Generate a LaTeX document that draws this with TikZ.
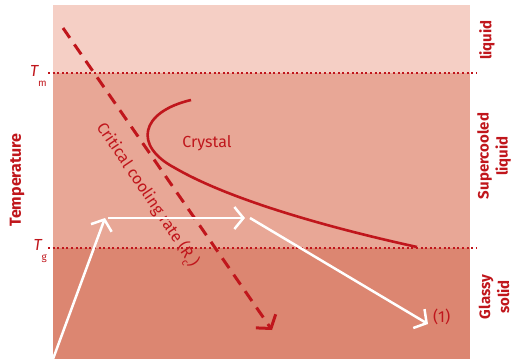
\documentclass[tikz,border=0pt]{standalone}
\usepackage{fontspec}
\setmainfont{Fira Sans}
\usetikzlibrary{arrows.meta}
\definecolor{dred}{RGB}{192,22,28}
\definecolor{bandA}{RGB}{245,207,197}
\definecolor{bandB}{RGB}{232,167,150}
\definecolor{bandC}{RGB}{220,134,113}
\tikzset{
  dotline/.style={dred, line width=2.2pt, dash pattern=on 2pt off 2.6pt},
  whitearrow/.style={white, line width=2.5pt, -{Straight Barb[length=9pt,width=22pt]}},
  critarrow/.style={dred, line width=3pt, dash pattern=on 12pt off 8pt, -{Straight Barb[length=9pt,width=24pt]}},
  phaselab/.style={dred, font=\bfseries\fontsize{15}{19}\selectfont, rotate=90, align=center, inner sep=0pt},
  plain/.style={dred, font=\fontsize{16}{18}\selectfont, inner sep=0pt},
  tlab/.style={dred, font=\fontsize{16}{18}\selectfont, inner sep=0pt, anchor=east}
}
\begin{document}
\begin{tikzpicture}[x=1pt,y=-1pt]
\useasboundingbox (0,0) rectangle (512,359);
% bands
\fill[bandA] (53,5) rectangle (470,73);
\fill[bandB] (53,73) rectangle (470,248);
\fill[bandC] (53,248) rectangle (470,359);
% dotted lines
\coordinate (tmL) at (48,73);
\coordinate (tmR) at (476,73);
\coordinate (tgL) at (48,248);
\coordinate (tgR) at (476,248);
\draw[dotline] (tmL) -- (tmR);
\draw[dotline] (tgL) -- (tgR);
\node[tlab] (Tm) at (47,76) {\textit{T}\kern-1pt\raisebox{-1.1ex}{\fontsize{10}{10}\selectfont m}};
\node[tlab] (Tg) at (47,251) {\textit{T}\kern-1pt\raisebox{-1.1ex}{\fontsize{10}{10}\selectfont g}};
% crystal curve
\coordinate (c1) at (191,100);
\coordinate (c2) at (175,168);
\coordinate (c3) at (417,247);
\draw[dred, line width=2.6pt] (c1) .. controls (140,112) and (133,146) .. (c2)
  .. controls (230,200) and (330,228) .. (c3);
\node[plain] (crystal) at (207,143) {Crystal};
% critical cooling rate
\coordinate (d1) at (63,28);
\coordinate (d2) at (272,330);
\draw[critarrow] (d1) -- (d2);
\node[plain, rotate=-56] (crit) at (147,195) {Critical cooling rate (R\raisebox{-0.6ex}{\fontsize{10}{10}\selectfont c})};
% white path
\coordinate (w0) at (53,359);
\coordinate (w1) at (105,218);
\coordinate (w2) at (108,218);
\coordinate (w3) at (245,218);
\coordinate (w4) at (250,218);
\coordinate (w5) at (428,324);
\draw[whitearrow] (w0) -- (w1);
\draw[whitearrow] (w2) -- (w3);
\draw[whitearrow] (w4) -- (w5);
\node[plain, anchor=west] (one) at (433,317) {(1)};
% labels
\node[phaselab] (liq) at (487,40) {liquid};
\node[phaselab] (sup) at (494,156) {Supercooled\\liquid};
\node[phaselab] (gla) at (494,297) {Glassy\\solid};
\node[phaselab, font=\bfseries\fontsize{16}{19}\selectfont] (temp) at (17,180) {Temperature};
\end{tikzpicture}
\end{document}
